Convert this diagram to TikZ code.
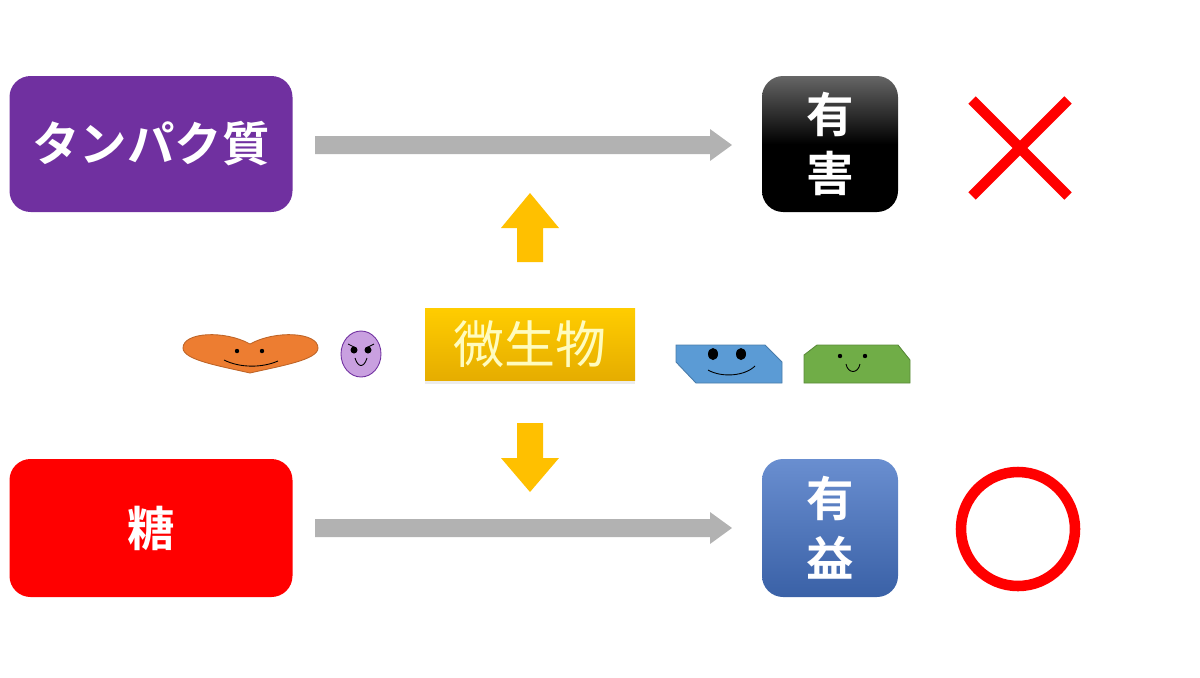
\documentclass[tikz,border=0pt]{standalone}
\usepackage{fontspec}
\newfontfamily\jp{Noto Sans CJK JP}[BoldFont={Noto Sans CJK JP Bold}]
\usetikzlibrary{shadows}
\definecolor{kpurple}{HTML}{7030A0}
\definecolor{kblue}{HTML}{4472C4}
\definecolor{kyellow}{HTML}{FFC000}
\definecolor{korange}{HTML}{ED7D31}
\definecolor{klilac}{HTML}{C9A0E0}
\definecolor{ksky}{HTML}{5B9BD5}
\definecolor{kgreen}{HTML}{70AD47}
\tikzset{
  box/.style={rounded corners=12pt, text=white, font=\jp\bfseries\fontsize{27}{34}\selectfont, align=center, inner sep=0pt},
  face/.style={line width=0.5pt},
}
\begin{document}
\begin{tikzpicture}[x=0.02cm, y=-0.02cm]
		\useasboundingbox (0,0) rectangle (1200,677);

		% the boxes on the left
		\node[box, fill=kpurple, minimum width=283*0.02cm, minimum height=136*0.02cm] (prot) at (151,144) {タンパク質};
		\node[box, fill=red, minimum width=283*0.02cm, minimum height=138*0.02cm] (sugar) at (151,528) {糖};

		% the results
		\node[box, top color=black!60, bottom color=black, middle color=black, minimum width=136*0.02cm, minimum height=136*0.02cm] (bad) at (830,144) {有\\害};
		\node[box, top color=kblue!80, bottom color=kblue!85!black, minimum width=136*0.02cm, minimum height=138*0.02cm] (good) at (830,528) {有\\益};

		% the gray arrows
		\coordinate (p1) at (315,145);
		\coordinate (p2) at (732,145);
		\coordinate (s1) at (315,528);
		\coordinate (s2) at (732,528);
		\fill[gray!60] (p1) ++(0,-9) -- ++(395,0) -- ++(0,-7) -- (p2) -- ++(-22,16) -- ++(0,-7) -- ++(-395,0) -- cycle;
		\fill[gray!60] (s1) ++(0,-9) -- ++(395,0) -- ++(0,-7) -- (s2) -- ++(-22,16) -- ++(0,-7) -- ++(-395,0) -- cycle;

		% microbes
		\node[box, top color=kyellow!80!yellow, bottom color=kyellow!90!black, rounded corners=0pt, drop shadow={opacity=0.15, shadow xshift=0pt, shadow yshift=-2pt}, text=yellow!25, font=\jp\fontsize{29}{34}\selectfont, minimum width=210*0.02cm, minimum height=72*0.02cm] (mic) at (530,344) {微生物};
		\fill[kyellow] (517,262) -- (517,228) -- (501,228) -- (530,193) -- (559,228) -- (543,228) -- (543,262) -- cycle;
		\fill[kyellow] (517,423) -- (517,458) -- (501,458) -- (530,492) -- (559,458) -- (543,458) -- (543,423) -- cycle;

		% the marks
		\draw[red, line width=6pt] (972,100) -- (1068,196) (1068,100) -- (972,196);
		\draw[red, line width=6pt] (1018,529) circle (57);

		% orange heart
		\draw[korange!80!black, fill=korange, face] (250,344) .. controls (275,330) and (318,332) .. (318,348)
		  .. controls (318,360) and (280,366) .. (250,373) .. controls (220,366) and (183,360) .. (183,348)
		  .. controls (183,332) and (225,330) .. (250,344) -- cycle;
		\fill (237,351) circle (2.2) (262,351) circle (2.2);
		\draw[face] (224,360) .. controls (240,368) and (262,368) .. (278,361);

		% purple face
		\draw[kpurple, fill=klilac, face] (361,354) ellipse (20 and 23);
		\fill (354,350) circle (3.5) (368,350) circle (3.5);
		\draw[face] (348,344) -- (356,348) (374,344) -- (366,348);
		\draw[face] (355,358) .. controls (358,368) and (364,368) .. (367,358);

		% blue face
		\draw[ksky!80!black, fill=ksky, face] (676,345) -- (765,345) -- (782,362) -- (782,383) -- (696,383) -- (676,362) -- cycle;
		\fill (713,354) ellipse (5 and 6) (741,354) ellipse (5 and 6);
		\draw[face] (708,370) .. controls (722,378) and (745,376) .. (755,366);

		% green face
		\draw[kgreen!80!black, fill=kgreen, face] (804,383) -- (804,355) -- (817,345) -- (898,345) -- (910,360) -- (910,383) -- cycle;
		\fill (840,356) circle (2.2) (865,356) circle (2.2);
		\draw[face] (846,364) .. controls (848,374) and (858,374) .. (860,364);
\end{tikzpicture}
\end{document}
